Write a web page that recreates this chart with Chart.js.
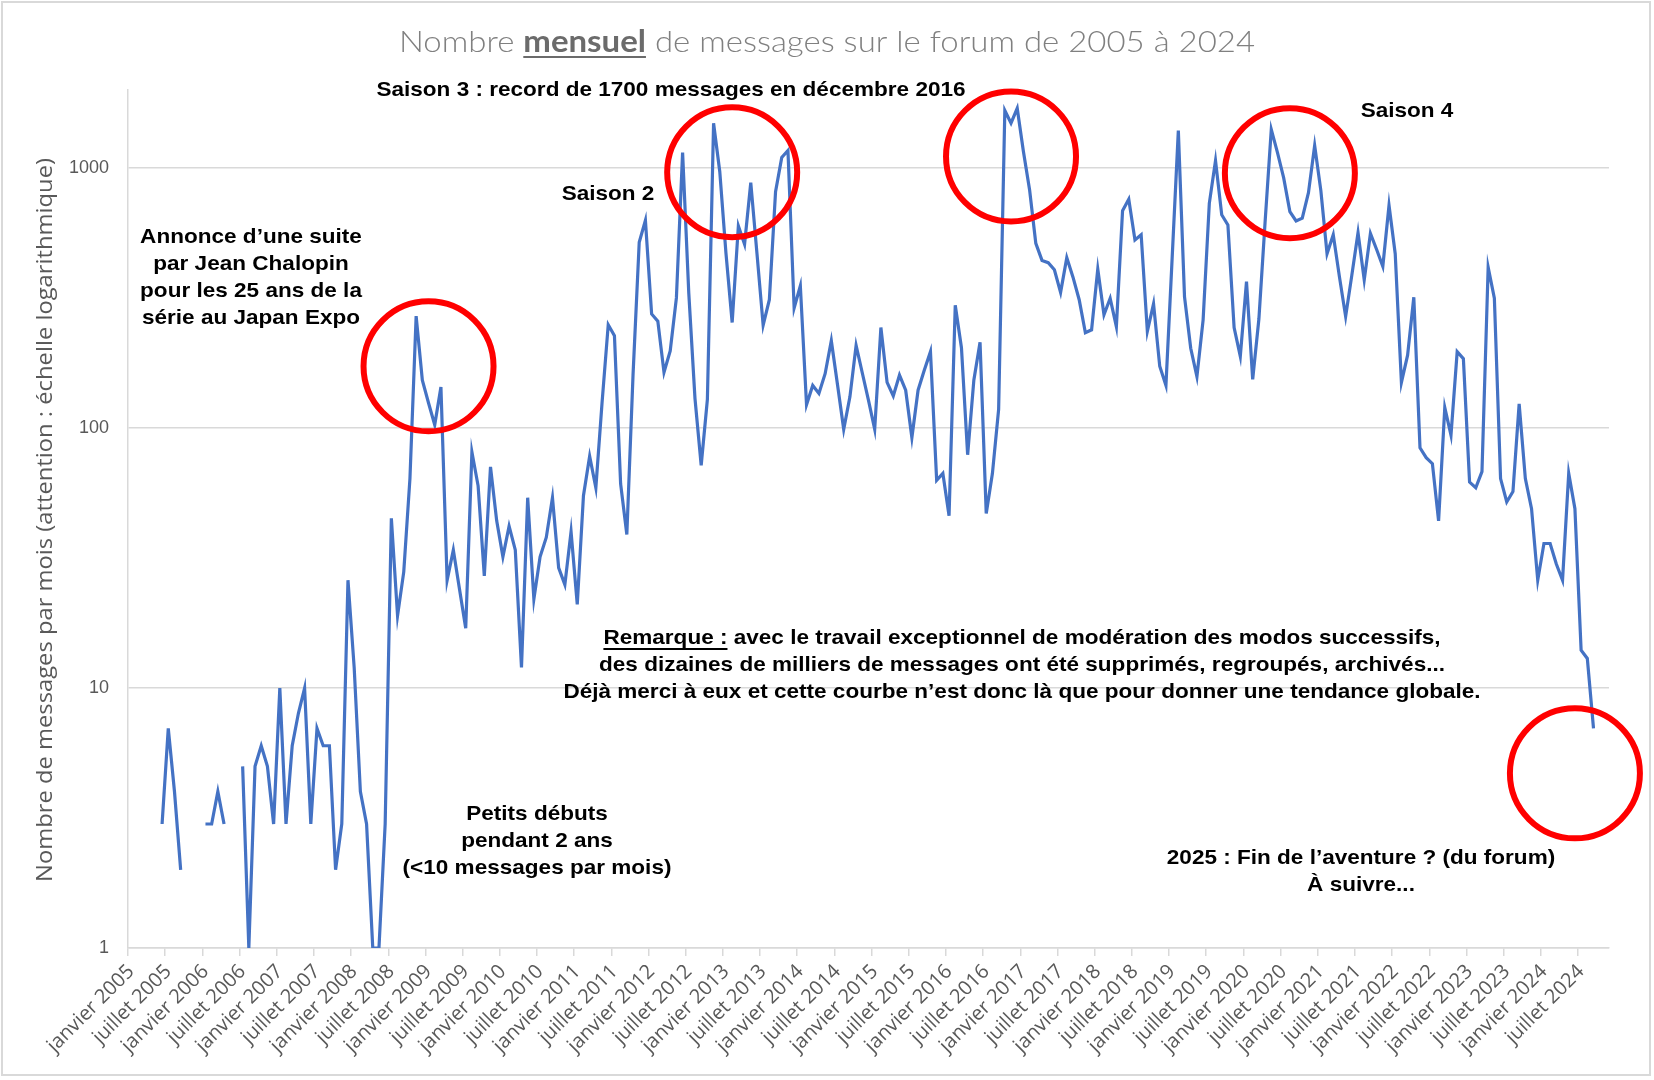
<!DOCTYPE html>
<html lang="fr">
<head>
<meta charset="utf-8">
<title>Nombre mensuel de messages sur le forum de 2005 à 2024</title>
<script src="https://cdn.jsdelivr.net/npm/chart.js@4.4.1/dist/chart.umd.min.js"></script>
<style>
    html, body { margin: 0; padding: 0; background: #fff; }
    #chart { display: block; }
</style>
</head>
<body>
<canvas id="chart" width="1654" height="1080"></canvas>
<script>
// Month names and years for the category axis
const monthNames = ['janvier', 'février', 'mars', 'avril', 'mai', 'juin',
    'juillet', 'août', 'septembre', 'octobre', 'novembre', 'décembre'];
const years = [2005, 2006, 2007, 2008, 2009, 2010, 2011, 2012, 2013, 2014,
    2015, 2016, 2017, 2018, 2019, 2020, 2021, 2022, 2023, 2024];

// Messages per month, one row per year (null = no data)
const monthlyMessages = [
    null, null, null, null, null, 3, 7, 4, 2, null, null, null,      // 2005
    3, 3, 4, 3, null, null, 5, 1, 5, 6, 5, 3,                        // 2006
    10, 3, 6, 8, 10, 3, 7, 6, 6, 2, 3, 26,                           // 2007
    12, 4, 3, 1, 1, 3, 45, 19, 28, 64, 270, 153,                     // 2008
    125, 103, 144, 26, 34, 24, 17, 81, 60, 27, 71, 44,               // 2009
    32, 42, 34, 12, 54, 22, 32, 38, 54, 29, 25, 40,                  // 2010
    21, 55, 78, 59, 125, 250, 227, 61, 39, 160, 519, 630,            // 2011
    275, 258, 164, 198, 317, 1150, 330, 130, 72, 129, 1490, 970,     // 2012
    470, 255, 600, 510, 880, 470, 249, 312, 813, 1100, 1170, 290,    // 2013
    353, 123, 146, 136, 162, 217, 147, 99, 132, 208, 163, 128,       // 2014
    99, 244, 150, 133, 160, 140, 92, 140, 167, 197, 63, 67,          // 2015
    46, 297, 204, 79, 153, 214, 47, 67, 118, 1668, 1490, 1700,       // 2016
    1160, 825, 514, 442, 433, 407, 333, 453, 381, 312, 233, 239,     // 2017
    409, 273, 316, 246, 687, 760, 530, 555, 236, 301, 173, 146,      // 2018
    450, 1396, 320, 203, 158, 261, 733, 1070, 662, 605, 244, 189,    // 2019
    366, 154, 263, 620, 1410, 1148, 918, 681, 627, 643, 805, 1223,   // 2020
    820, 469, 555, 382, 269, 388, 565, 372, 561, 487, 419, 720,      // 2021
    469, 150, 191, 319, 84, 77, 73, 44, 120, 94, 197, 185,           // 2022
    62, 59, 68, 416, 316, 64, 52, 57, 124, 64, 49, 26,               // 2023
    36, 36, 30, 26, 67, 49, 14, 13, 7, null, null                    // 2024
];

// Y axis tick values (log scale)
const yTicks = [1, 10, 100, 1000];

// Highlighted peaks: month index + value where the red circle is centred
const circleMonths = [48, 97, 142, 187, 233];
const circleValues = [173, 965, 1110, 957, 4.7];

// Category labels ("janvier 2005" ...), one per month of data
const monthLabels = [];
years.forEach(y => monthNames.forEach(m => monthLabels.push(m + ' ' + y)));
monthLabels.length = monthlyMessages.length;

// Annotation texts (layout only)
const notes = [
    { lines: ['Saison 3 : record de 1700 messages en décembre 2016'], x: 671, y: 96 },
    { lines: ['Saison 2'], x: 608, y: 200 },
    { lines: ['Saison 4'], x: 1407, y: 117 },
    { lines: ['Annonce d’une suite', 'par Jean Chalopin', 'pour les 25 ans de la', 'série au Japan Expo'], x: 251, y: 243 },
    { lines: ['Petits débuts', 'pendant 2 ans', '(<10 messages par mois)'], x: 537, y: 820 },
    { lines: ['2025 : Fin de l’aventure ? (du forum)', 'À suivre...'], x: 1361, y: 864 }
];
const remarkLines = [
    'avec le travail exceptionnel de modération des modos successifs,',
    'des dizaines de milliers de messages ont été supprimés, regroupés, archivés...',
    'Déjà merci à eux et cette courbe n’est donc là que pour donner une tendance globale.'
];

const NOTE_FONT = 'bold 20.5px "Liberation Sans", Arial, sans-serif';
const NOTE_STRETCH = 1.1;
const LINE_H = 27;

function drawStretched(ctx, text, cx, baseline, sx) {
    ctx.save();
    ctx.translate(cx, baseline);
    ctx.scale(sx, 1);
    ctx.textAlign = 'center';
    ctx.fillText(text, 0, 0);
    ctx.restore();
}

// Draws title, axis title, circles and the text notes
const decorations = {
    id: 'decorations',
    afterDraw(chart) {
        const { ctx, scales: { x, y } } = chart;
        ctx.save();
        ctx.textBaseline = 'alphabetic';

        // Title with "mensuel" bold + underlined
        const parts = [
            { t: 'Nombre ', font: '300 30px Lato, "Open Sans", sans-serif', color: '#808080' },
            { t: 'mensuel', font: 'bold 30px Lato, "Open Sans", sans-serif', color: '#6b6b6b', u: true },
            { t: ' de messages sur le forum de 2005 à 2024', font: '300 30px Lato, "Open Sans", sans-serif', color: '#808080' }
        ];
        let total = 0;
        parts.forEach(p => { ctx.font = p.font; p.w = ctx.measureText(p.t).width; total += p.w; });
        const titleW = 856;
        const sx = titleW / total;
        let tx = 827 - titleW / 2;
        parts.forEach(p => {
            ctx.save();
            ctx.translate(tx, 52);
            ctx.scale(sx, 1);
            ctx.font = p.font;
            ctx.fillStyle = p.color;
            ctx.textAlign = 'left';
            ctx.fillText(p.t, 0, 0);
            if (p.u) ctx.fillRect(0, 4, p.w, 2);
            ctx.restore();
            tx += p.w * sx;
        });

        // Y axis title
        const yTitle = 'Nombre de messages par mois (attention : échelle logarithmique)';
        ctx.font = '22px "Open Sans", sans-serif';
        const yw = ctx.measureText(yTitle).width;
        ctx.save();
        ctx.translate(52, 520);
        ctx.rotate(-Math.PI / 2);
        ctx.scale(724 / yw, 1);
        ctx.fillStyle = '#595959';
        ctx.textAlign = 'center';
        ctx.fillText(yTitle, 0, 0);
        ctx.restore();

        // Red circles
        ctx.strokeStyle = '#ff0000';
        ctx.lineWidth = 6;
        circleMonths.forEach((m, i) => {
            ctx.beginPath();
            ctx.arc(x.getPixelForValue(m), y.getPixelForValue(circleValues[i]), 65, 0, Math.PI * 2);
            ctx.stroke();
        });

        // Notes
        ctx.font = NOTE_FONT;
        ctx.fillStyle = '#000';
        notes.forEach(n => {
            n.lines.forEach((line, k) => drawStretched(ctx, line, n.x, n.y + k * LINE_H, NOTE_STRETCH));
        });

        // Remark block, "Remarque :" underlined
        const lead = 'Remarque : ';
        const first = lead + remarkLines[0];
        const cx = 1022;
        const lw = ctx.measureText(first).width * NOTE_STRETCH;
        const uw = ctx.measureText('Remarque :').width * NOTE_STRETCH;
        drawStretched(ctx, first, cx, 644, NOTE_STRETCH);
        ctx.fillRect(cx - lw / 2, 648, uw, 2);
        drawStretched(ctx, remarkLines[1], cx, 644 + LINE_H, NOTE_STRETCH);
        drawStretched(ctx, remarkLines[2], cx, 644 + 2 * LINE_H, NOTE_STRETCH);

        // Outer chart border
        ctx.strokeStyle = '#d9d9d9';
        ctx.lineWidth = 2;
        ctx.strokeRect(2, 2, 1648, 1073);
        ctx.restore();
    }
};

new Chart(document.getElementById('chart'), {
    type: 'line',
    data: {
        labels: monthLabels,
        datasets: [{
            label: 'Messages',
            data: monthlyMessages,
            borderColor: '#4472C4',
            borderWidth: 3.2,
            pointRadius: 0,
            tension: 0,
            spanGaps: false,
            fill: false
        }]
    },
    options: {
        responsive: false,
        animation: false,
        layout: {
            autoPadding: false,
            padding: { top: 90, right: 45, left: 0, bottom: 0 }
        },
        plugins: {
            legend: { display: false },
            tooltip: { enabled: false },
            title: { display: false }
        },
        scales: {
            x: {
                type: 'category',
                offset: true,
                afterFit: s => { s.height = 132; },
                grid: {
                    offset: true,
                    drawOnChartArea: false,
                    tickLength: 8,
                    lineWidth: 1.5,
                    color: c => (c.index % 6 === 0 ? '#d9d9d9' : 'rgba(0,0,0,0)')
                },
                border: { color: '#d9d9d9', width: 1.5 },
                ticks: {
                    autoSkip: false,
                    maxRotation: 45,
                    minRotation: 45,
                    padding: 4,
                    color: '#595959',
                    font: { family: '"Open Sans", sans-serif', size: 20 },
                    callback: (v, i) => (i % 6 === 0 ? monthLabels[i] : '')
                }
            },
            y: {
                type: 'logarithmic',
                min: 1,
                max: 2000,
                afterFit: s => { s.width = 128; },
                afterBuildTicks: s => { s.ticks = yTicks.map(v => ({ value: v })); },
                grid: { color: '#d9d9d9', lineWidth: 1.5, drawTicks: false },
                border: { color: '#d9d9d9', width: 1.5 },
                ticks: {
                    padding: 19,
                    color: '#595959',
                    font: { family: '"Liberation Sans", Arial, sans-serif', size: 18 },
                    callback: v => String(v)
                }
            }
        }
    },
    plugins: [decorations]
});
</script>
</body>
</html>
